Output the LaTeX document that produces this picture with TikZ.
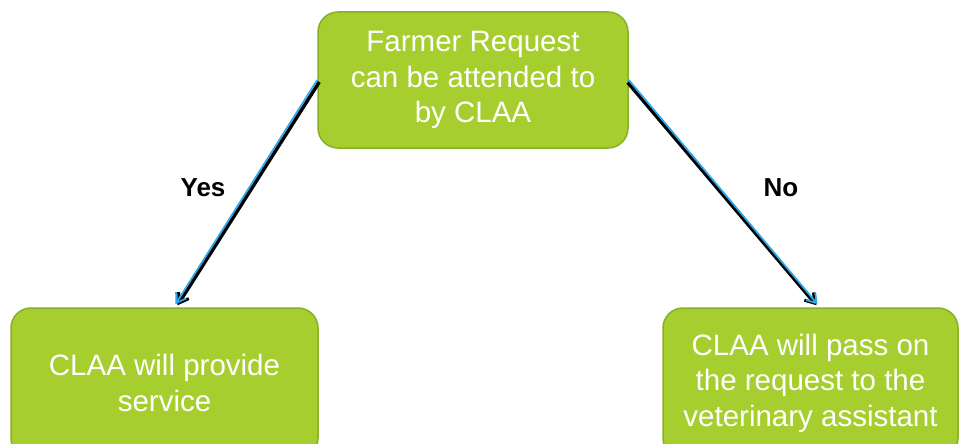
\documentclass[tikz,border=0pt]{standalone}
\usepackage{fontspec}
\setmainfont{Liberation Sans}
\usetikzlibrary{arrows.meta}
\definecolor{boxfill}{HTML}{A6CE2E}
\definecolor{boxline}{HTML}{8AAE28}
\definecolor{arrowblue}{HTML}{2EA8E8}
\tikzset{
  greenbox/.style={draw=boxline, line width=1.5pt, fill=boxfill, rounded corners=20pt,
    text=white, align=center, inner sep=0pt, font=\fontsize{29.5}{35.5}\selectfont},
  shadowline/.style={draw=black, line width=3.5pt, -{Straight Barb[length=9pt,width=12pt,line width=3pt]}},
  blueline/.style={draw=arrowblue, line width=1.8pt, -{Straight Barb[length=9pt,width=12pt,line width=1.8pt]}},
  lbl/.style={font=\fontsize{26}{30}\selectfont\bfseries, text=black, inner sep=0pt}
}
\begin{document}
\begin{tikzpicture}[x=1pt, y=-1pt]
\useasboundingbox (0,0) rectangle (959,444);
\clip (0,0) rectangle (959,444);
\fill[white] (0,0) rectangle (959,444);
\node[greenbox, minimum width=310pt, minimum height=136pt] (top) at (473,80)
  {Farmer Request\\can be attended to\\by CLAA};
\node[greenbox, minimum width=307pt, minimum height=150pt] (yes) at (164.5,383)
  {CLAA will provide\\service};
\node[greenbox, minimum width=295pt, minimum height=150pt] (no) at (810.5,383)
  {CLAA will pass on\\the request to the\\veterinary assistant};
\coordinate (yesend) at ([xshift=11pt, yshift=3pt]yes.north);
\coordinate (noend) at ([xshift=7pt, yshift=3pt]no.north);
\draw[shadowline] ([xshift=2pt,yshift=-2pt]top.west) -- ([xshift=2pt,yshift=-1pt]yesend);
\draw[blueline] (top.west) -- (yesend);
\draw[shadowline] ([xshift=-1pt,yshift=-2.5pt]top.east) -- ([xshift=-1pt,yshift=-1pt]noend);
\draw[blueline] (top.east) -- (noend);
\node[lbl] (yeslbl) at (203,188) {Yes};
\node[lbl] (nolbl) at (781,188) {No};
\end{tikzpicture}
\end{document}
